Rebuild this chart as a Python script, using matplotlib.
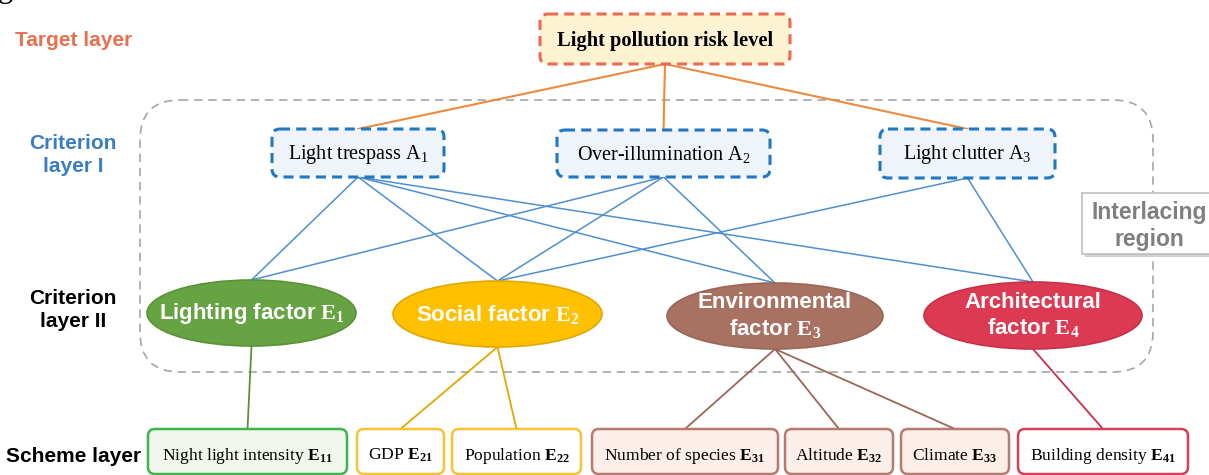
import matplotlib
matplotlib.use("Agg")
import matplotlib.pyplot as plt
from matplotlib.patches import FancyBboxPatch, Ellipse, Rectangle

plt.rcParams['mathtext.fontset'] = 'custom'
plt.rcParams['mathtext.rm'] = 'Liberation Serif'
plt.rcParams['mathtext.bf'] = 'Liberation Serif:bold'
plt.rcParams['mathtext.it'] = 'Liberation Serif:italic'

SANS = 'Liberation Sans'
SERIF = 'Liberation Serif'

# ---- content ----
layer_names = ["Target layer", "Criterion\nlayer I", "Criterion\nlayer II", "Scheme layer"]
target_label = "Light pollution risk level"
crit1_labels = [r"Light trespass A$_{\mathrm{1}}$",
                r"Over-illumination A$_{\mathrm{2}}$",
                r"Light clutter A$_{\mathrm{3}}$"]
crit2_labels = [r"Lighting factor $\mathbf{E}_{\mathbf{1}}$",
                r"Social factor $\mathbf{E}_{\mathbf{2}}$",
                "Environmental\n" + r"factor $\mathbf{E}_{\mathbf{3}}$",
                "Architectural\n" + r"factor $\mathbf{E}_{\mathbf{4}}$"]
scheme_labels = [r"Night light intensity $\mathbf{E}_{\mathbf{11}}$",
                 r"GDP $\mathbf{E}_{\mathbf{21}}$",
                 r"Population $\mathbf{E}_{\mathbf{22}}$",
                 r"Number of species $\mathbf{E}_{\mathbf{31}}$",
                 r"Altitude $\mathbf{E}_{\mathbf{32}}$",
                 r"Climate $\mathbf{E}_{\mathbf{33}}$",
                 r"Building density $\mathbf{E}_{\mathbf{41}}$"]
# links criterion I -> criterion II, and criterion II -> scheme
crit_links = [(0, 0), (0, 1), (0, 2), (0, 3), (1, 0), (1, 1), (1, 2), (2, 1), (2, 3)]
scheme_parent = [0, 1, 1, 2, 2, 2, 3]

# ---- layout (pixels) ----
target_box = (540, 14, 250, 50)
crit1_boxes = [(272, 129, 172, 48), (557, 130, 213, 47), (880, 129, 175, 49)]
crit2_ell = [(251.5, 313, 209, 66), (497.5, 314, 209, 66), (775, 316, 216, 66), (1033, 315.5, 218, 67)]
scheme_boxes = [(148, 429, 199, 45), (357, 429, 87, 45), (452, 429, 129, 45),
                (592, 429, 186, 45), (785, 429, 108, 45), (901, 429, 108, 45), (1018, 429, 170, 45)]

ell_fill = ['#66a343', '#ffc000', '#a87263', '#db3a52']
ell_edge = ['#5a9238', '#e0a800', '#9a6657', '#c8304a']
scheme_edge = ['#3db54a', '#f6c333', '#f6c333', '#b87a6d', '#b87a6d', '#b87a6d', '#d43f5a']
scheme_fill = ['#f1f7ec', 'white', 'white', '#fcefe9', '#fcefe9', '#fcefe9', 'white']

fig = plt.figure(figsize=(12.09, 4.75), dpi=100)
ax = fig.add_axes([0, 0, 1, 1])
ax.set_xlim(0, 1209)
ax.set_ylim(475, 0)
ax.axis('off')

# stray caption letter at very top
ax.text(-2, -3, "g", fontsize=22, family=SERIF, va='baseline', ha='left')

# layer names
ax.text(74, 41, layer_names[0], color='#e8704f', fontsize=15, family=SANS, weight='bold',
        ha='center', va='center')
ax.text(73, 155, layer_names[1], color='#3a7dc0', fontsize=15, family=SANS, weight='bold',
        ha='center', va='center', linespacing=1.22)
ax.text(73, 310, layer_names[2], color='black', fontsize=15, family=SANS, weight='bold',
        ha='center', va='center', linespacing=1.22)
ax.text(74, 457, layer_names[3], color='black', fontsize=15, family=SANS, weight='bold',
        ha='center', va='center')

# interlacing dashed region
ax.add_patch(FancyBboxPatch((140, 100), 1013, 272, boxstyle="round,pad=0,rounding_size=40",
                            fc='none', ec='#a6a6a6', lw=1.2, ls=(0, (5, 3.5)), zorder=1))

# target -> criterion I
tx = target_box[0] + target_box[2] / 2
ty = target_box[1] + target_box[3]
for (x, y, w, h) in crit1_boxes:
    ax.plot([tx, x + w / 2], [ty, y], color='#eb8b3f', lw=1.5, zorder=2)

# criterion I -> criterion II
for i, j in crit_links:
    x, y, w, h = crit1_boxes[i]
    cx, cy, ew, eh = crit2_ell[j]
    ax.plot([x + w / 2, cx], [y + h, cy - eh / 2], color='#4f8fd0', lw=1.1, zorder=2)

# criterion II -> scheme
for k, p in enumerate(scheme_parent):
    cx, cy, ew, eh = crit2_ell[p]
    x, y, w, h = scheme_boxes[k]
    ax.plot([cx, x + w / 2], [cy + eh / 2, y], color=ell_edge[p], lw=1.3, zorder=2)

# target box
x, y, w, h = target_box
ax.add_patch(FancyBboxPatch((x, y), w, h, boxstyle="round,pad=0,rounding_size=8",
                            fc='#fdf3d2', ec='#ea6a52', lw=2.2, ls=(0, (3.3, 2)), zorder=3))
ax.text(x + w / 2, y + h / 2 + 2, target_label, fontsize=14.8, family=SERIF, weight='bold',
        ha='center', va='center', zorder=4)

# criterion I boxes
for (x, y, w, h), lab in zip(crit1_boxes, crit1_labels):
    ax.add_patch(FancyBboxPatch((x, y), w, h, boxstyle="round,pad=0,rounding_size=8",
                                fc='#eef4fa', ec='#1f78c1', lw=2.2, ls=(0, (3.3, 2)), zorder=3))
    ax.text(x + w / 2, y + h / 2 + 1, lab, fontsize=14.5, family=SERIF, ha='center',
            va='center', zorder=4)

# criterion II ellipses
for k, ((cx, cy, ew, eh), lab) in enumerate(zip(crit2_ell, crit2_labels)):
    ax.add_patch(Ellipse((cx, cy), ew, eh, fc=ell_fill[k], ec=ell_edge[k], lw=1.2, zorder=3))
    ax.text(cx, cy, lab, fontsize=16, family=SANS, weight='bold', color='white',
            ha='center', va='center', linespacing=1.18, zorder=4)

# scheme boxes
for k, ((x, y, w, h), lab) in enumerate(zip(scheme_boxes, scheme_labels)):
    ax.add_patch(FancyBboxPatch((x, y), w, h, boxstyle="round,pad=0,rounding_size=7",
                                fc=scheme_fill[k], ec=scheme_edge[k], lw=1.8, zorder=3))
    ax.text(x + w / 2, y + h / 2 + 4, lab, fontsize=12.6, family=SERIF, ha='center',
            va='center', zorder=4)

# interlacing region label
ax.add_patch(Rectangle((1085, 196), 130, 61, fc='#d0d0d0', ec='none', zorder=4))
ax.add_patch(Rectangle((1082, 193), 130, 61, fc='white', ec='#bfbfbf', lw=1.2, zorder=5))
ax.text(1149, 226, "Interlacing\nregion", color='#7f7f7f', fontsize=16.5, family=SANS,
        weight='bold', ha='center', va='center', linespacing=1.2, zorder=6)

fig.savefig("out.png", dpi=100)
